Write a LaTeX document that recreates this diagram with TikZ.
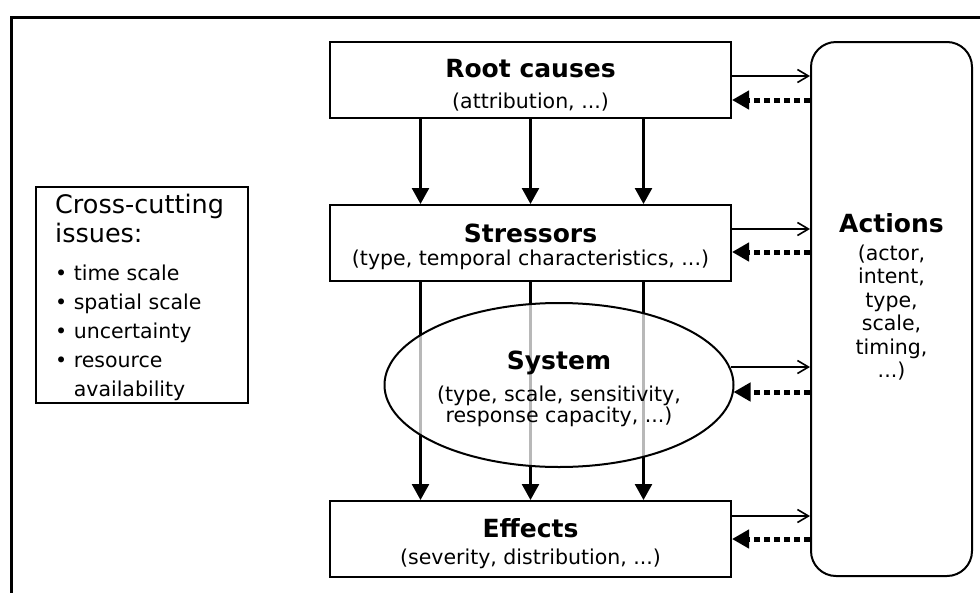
\documentclass[tikz,border=0pt]{standalone}
\usepackage{fontspec}
\setmainfont{DejaVu Sans}
\usetikzlibrary{arrows.meta, shapes.geometric, backgrounds}
\newcommand{\ttl}[1]{{\fontsize{25}{28}\selectfont\bfseries #1}}
\newcommand{\tstrut}[1]{\rule{0pt}{#1}}
\newcommand{\hdfont}{\fontsize{25.5}{28}\selectfont}
\newcommand{\txfont}{\fontsize{20.5}{29}\selectfont}

\begin{document}
\begin{tikzpicture}[x=1pt, y=-1pt,
  box/.style={rectangle, draw=black, fill=white, line width=2pt,
              minimum width=401pt, minimum height=76pt, align=center,
              inner sep=0pt, font=\fontsize{20.5}{24}\selectfont},
  sysell/.style={ellipse, draw=black, fill=white, line width=2pt,
              fill opacity=0.72, text opacity=1,
              minimum width=349pt, minimum height=164pt, align=center,
              inner sep=0pt, font=\fontsize{20.5}{22}\selectfont},
  actbox/.style={rectangle, draw=black, line width=2pt, rounded corners=25pt,
              minimum width=161pt, minimum height=534pt},
  acttxt/.style={align=center, font=\fontsize{20.5}{23.5}\selectfont},
  cross/.style={rectangle, draw=black, line width=1.5pt,
              minimum width=212pt, minimum height=216pt, inner sep=0pt},
  down/.style={line width=2.6pt, -{Triangle[length=16pt,width=17pt]}},
  fwd/.style={line width=1.6pt, -{Straight Barb[length=11pt,width=13pt]}},
  back/.style={line width=5pt, dash pattern=on 6pt off 4pt,
              -{Triangle[length=17pt,width=18pt]}}
]
\useasboundingbox (0,0) rectangle (980,592);
%% Outer frame
\draw[line width=3pt] (995,17) -| (11,610);
%% Main chain
\node[box] (root)   at (530.5, 80)
  {\tstrut{29pt}\ttl{Root causes}\\[7pt](attribution, ...)};
\node[box] (stress) at (530.5,243)
  {\tstrut{27pt}\ttl{Stressors}\\[-1pt](type, temporal characteristics, ...)};
\node[box] (eff)    at (530.5,539)
  {\tstrut{29pt}\ttl{Effects}\\[3pt](severity, distribution, ...)};
\node[sysell] (sys) at (559,385)
  {\tstrut{27pt}\ttl{System}\\[10pt](type, scale, sensitivity,\\[-1pt]response capacity, ...)};
%% Actions
\node[actbox] (act) at (891.5,309) {};
\node[acttxt] (acttext) at (891.5,297)
  {\ttl{Actions}\\[4pt](actor,\\intent,\\type,\\scale,\\timing,\\...)};
%% Cross-cutting issues
\node[cross] (cc) at (142,295) {};
\node[anchor=north west, align=left, inner sep=0pt, font=\txfont] (cctext) at (55,194)
  {\hdfont Cross-cutting\\\hdfont issues:\\[9pt]\txfont
   \textbullet\ time scale\\
   \textbullet\ spatial scale\\
   \textbullet\ uncertainty\\
   \textbullet\ resource\\
   \phantom{\textbullet\ }availability};
%% Vertical arrows
\foreach \dx in {-110,0,113}{
  \draw[down] ([xshift=\dx pt]root.south) -- ([xshift=\dx pt]stress.north);}
\begin{pgfonlayer}{background}
\foreach \dx in {-110,0,113}{
  \draw[down] ([xshift=\dx pt]stress.south) -- ([xshift=\dx pt]eff.north);}
\end{pgfonlayer}
%% Links to actions
\foreach \n/\a/\b in {root/4/-20, stress/14/-9, eff/23/0}{
  \coordinate (\n-out) at ([yshift=\a pt]\n.east);
  \coordinate (\n-in)  at ([yshift=\b pt]\n.east);
  \draw[fwd]  (\n-out) -- (\n-out -| act.west);
  \draw[back] (\n-in -| act.west) -- (\n-in);}
\coordinate (sys-out) at ([shift={(-4pt,18pt)}]sys.east);
\coordinate (sys-in)  at ([shift={(-1pt,-7pt)}]sys.east);
\draw[fwd]  (sys-out) -- (sys-out -| act.west);
\draw[back] (sys-in -| act.west) -- (sys-in);
\end{tikzpicture}
\end{document}
